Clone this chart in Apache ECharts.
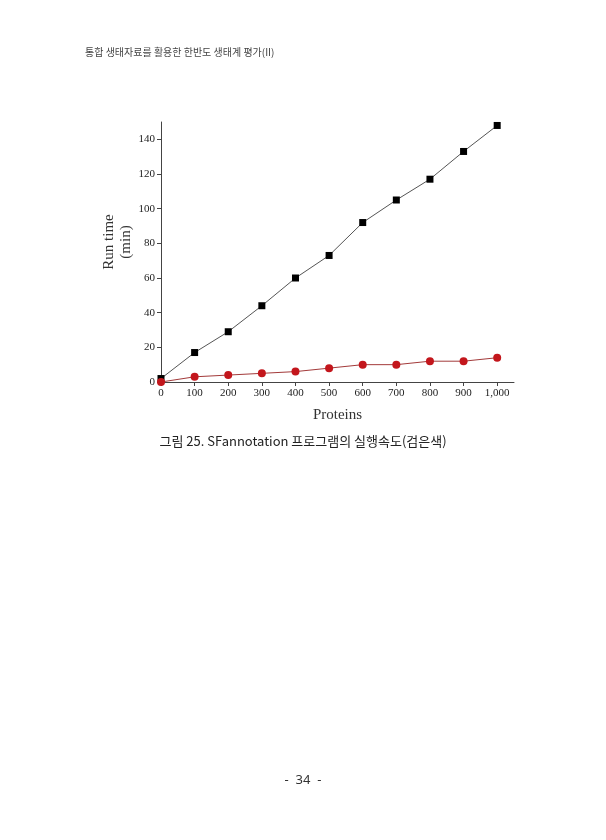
<!DOCTYPE html>
<html>
<head>
<meta charset="utf-8">
<script src="https://cdn.jsdelivr.net/npm/echarts@6/dist/echarts.min.js"></script>
<style>html,body{margin:0;padding:0;background:#fff;}#c{width:606px;height:840px;}</style>
</head>
<body>
<div id="c"></div>
<script>
var proteins = [0, 100, 200, 300, 400, 500, 600, 700, 800, 900, 1000];
var blackSeries = [2, 17, 29, 44, 60, 73, 92, 105, 117, 133, 148];
var redSeries = [0, 3, 4, 5, 6, 8, 10, 10, 12, 12, 14];
var yTicks = [0, 20, 40, 60, 80, 100, 120, 140];
var xTicks = [0, 100, 200, 300, 400, 500, 600, 700, 800, 900, 1000];
var headerText = '통합 생태자료를 활용한 한반도 생태계 평가(II)';
var captionText = '그림 25. SFannotation 프로그램의 실행속도(검은색)';
var pageText = '-  34  -';

function pairs(xs, ys) { return xs.map(function (x, i) { return [x, ys[i]]; }); }

var chart = echarts.init(document.getElementById('c'));
var serif = '"Liberation Serif", "DejaVu Serif", serif';
chart.setOption({
  animation: false,
  backgroundColor: '#fff',
  grid: { left: 161, right: 92, top: 122, bottom: 458, containLabel: false },
  xAxis: {
    type: 'value', min: 0, max: 1050,
    name: 'Proteins', nameLocation: 'middle', nameGap: 26,
    nameTextStyle: { fontFamily: serif, fontSize: 15, color: '#333' },
    axisLine: { show: true, lineStyle: { color: '#444', width: 1 } },
    axisTick: { show: true, customValues: xTicks, length: 4, lineStyle: { color: '#444' } },
    axisLabel: { customValues: xTicks, fontFamily: serif, fontSize: 11, color: '#222', margin: 6,
      formatter: function (v) { return v >= 1000 ? '1,000' : String(v); } },
    splitLine: { show: false }
  },
  yAxis: {
    type: 'value', min: 0, max: 150,
    name: 'Run time\n(min)', nameLocation: 'middle', nameGap: 26, nameRotate: 90,
    nameMoveOverlap: false,
    nameTextStyle: { fontFamily: serif, fontSize: 15, color: '#333', lineHeight: 17, padding: [0, 0, 0, 20] },
    axisLine: { show: true, lineStyle: { color: '#444', width: 1 } },
    axisTick: { show: true, customValues: yTicks, length: 4, lineStyle: { color: '#444' } },
    axisLabel: { customValues: yTicks, fontFamily: serif, fontSize: 11, color: '#222', margin: 6 },
    splitLine: { show: false }
  },
  series: [
    {
      type: 'line', data: pairs(proteins, blackSeries),
      symbol: 'rect', symbolSize: 7, clip: false,
      lineStyle: { color: '#555', width: 1 },
      itemStyle: { color: '#000' }
    },
    {
      type: 'line', data: pairs(proteins, redSeries),
      symbol: 'circle', symbolSize: 8, clip: false,
      lineStyle: { color: '#a33a3a', width: 1 },
      itemStyle: { color: '#c3161c' }
    }
  ],
  graphic: [
    { type: 'text', left: 85, top: 47, style: { text: headerText, font: '10px "Noto Sans CJK KR"', fill: '#444' } },
    { type: 'text', left: 'center', top: 435, style: { text: captionText, font: '13px "Noto Sans CJK KR"', fill: '#222' } },
    { type: 'text', left: 'center', top: 774, style: { text: pageText, font: '13px "Noto Sans", sans-serif', fill: '#333' } }
  ]
});
</script>
</body>
</html>
